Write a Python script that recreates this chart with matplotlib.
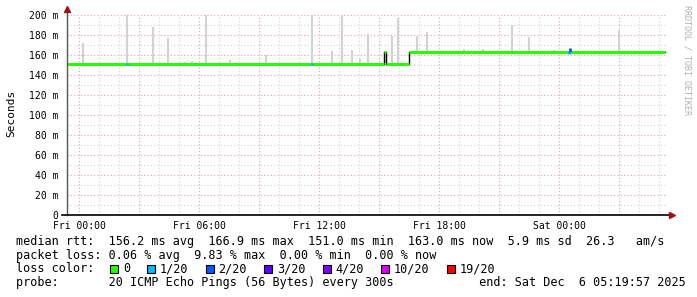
import matplotlib
matplotlib.use("Agg")
import matplotlib.pyplot as plt
from matplotlib.patches import Rectangle
import numpy as np

# time in hours relative to Fri 00:00, values in ms
median_t = [-0.6, 15.25, 15.35, 16.5, 29.3]
median_v = [151, 163, 151, 163, 163]

spike_t = [0.2, 2.4, 3.7, 4.45, 5.3, 5.65, 6.35, 7.55, 9.35, 11.65, 12.65, 13.15,
           13.65, 14.05, 14.45, 15.65, 15.95, 16.9, 17.4, 19.25, 20.2, 21.65,
           22.5, 23.75, 27.0]
spike_top = [172, 200, 188, 177, 153, 154, 200, 155, 160, 200, 164, 200,
             165, 156, 181, 179, 197, 179, 183, 166, 166, 190,
             178, 165, 185]

loss_t = [2.4, 11.65, 24.5, 24.55]
loss_lo = [150, 150, 161, 163]
loss_hi = [152, 152, 164, 167]
loss_c = ["#00b8ff", "#00b8ff", "#00b8ff", "#0059ff"]

tick_hours = [0, 6, 12, 18, 24]
tick_labels = ["Fri 00:00", "Fri 06:00", "Fri 12:00", "Fri 18:00", "Sat 00:00"]
y_ticks = [0, 20, 40, 60, 80, 100, 120, 140, 160, 180, 200]

loss_names = ["0", "1/20", "2/20", "3/20", "4/20", "10/20", "19/20"]
loss_colors = ["#26ff00", "#00b8ff", "#0059ff", "#5e00ff", "#7e00ff", "#dd00ff", "#ff0000"]

line1 = "median rtt:  156.2 ms avg  166.9 ms max  151.0 ms min  163.0 ms now  5.9 ms sd  26.3   am/s"
line2 = "packet loss: 0.06 % avg  9.83 % max  0.00 % min  0.00 % now"
line4 = "probe:       20 ICMP Echo Pings (56 Bytes) every 300s            end: Sat Dec  6 05:19:57 2025"

W, H = 697, 297
fig = plt.figure(figsize=(W / 100, H / 100), dpi=100)
ax = fig.add_axes([67 / W, (H - 215) / H, 600 / W, 200 / H])
ax.set_xlim(-0.6, 29.4)
ax.set_ylim(0, 200)

# grid
minor_c = "#d2d2d2"
major_c = "#dea4a4"
for h in np.arange(-0, 30, 1):
    c = major_c if h % 3 == 0 else minor_c
    ax.axvline(h, color=c, lw=0.8, ls=(0, (1, 2)), zorder=0)
for v in range(10, 201, 10):
    c = major_c if v % 20 == 0 else minor_c
    ax.axhline(v, color=c, lw=0.8, ls=(0, (1, 2)), zorder=0)

# smoke
idx = np.searchsorted(median_t, spike_t, side="right") - 1
base = np.array(median_v)[idx]
ax.vlines(spike_t, base, spike_top, color="#d2d2d2", lw=1.5, zorder=1)

# median
ax.step(median_t, median_v, where="post", color="black", lw=1.0, zorder=2)
ax.hlines(median_v[:-1], median_t[:-1], median_t[1:], color="#26ff00", lw=2.2, zorder=3)
ax.vlines(loss_t, loss_lo, loss_hi, colors=loss_c, lw=2.0, zorder=4)

for s in ax.spines.values():
    s.set_visible(False)
ax.plot([-0.6, -0.6], [0, 205], color="#555555", lw=1.0, clip_on=False, zorder=5)
ax.plot([-0.85, 29.6], [0, 0], color="black", lw=1.2, clip_on=False, zorder=5)
ax.plot([-0.6], [206], marker="^", color="#a01010", ms=4.5, clip_on=False, zorder=6)
ax.plot([29.65], [0], marker=">", color="#a01010", ms=4.5, clip_on=False, zorder=6)

ax.set_xticks(tick_hours)
ax.set_xticklabels(tick_labels, family="DejaVu Sans Mono", fontsize=7)
ax.set_yticks(y_ticks)
ax.set_yticklabels(["0"] + [f"{v} m" for v in y_ticks[1:]], family="DejaVu Sans Mono", fontsize=7)
ax.tick_params(axis="x", length=0, pad=4)
ax.tick_params(axis="y", length=0, pad=6)

fig.text(11 / W, 1 - 113 / H, "Seconds", rotation=90, ha="center", va="center",
         family="DejaVu Sans Mono", fontsize=8)
fig.text(687 / W, 1 - 60 / H, "RRDTOOL / TOBI OETIKER", rotation=270, ha="center",
         va="center", family="DejaVu Sans Mono", fontsize=6, color="#b0b0b0")

mono = dict(family="DejaVu Sans Mono", fontsize=8.5, va="center", ha="left")
fig.text(16 / W, 1 - 241.5 / H, line1, **mono)
fig.text(16 / W, 1 - 255 / H, line2, **mono)
fig.text(16 / W, 1 - 268.8 / H, "loss color:", **mono)
fig.text(16 / W, 1 - 282.7 / H, line4, **mono)

cw = 7.12
x = 110
for name, col in zip(loss_names, loss_colors):
    fig.patches.append(Rectangle((x / W, 1 - 273 / H), 8 / W, 8 / H, transform=fig.transFigure,
                                 facecolor=col, edgecolor="black", lw=0.8))
    fig.text((x + 13) / W, 1 - 268.8 / H, name, **mono)
    x = x + 13 + len(name) * cw + 17

fig.savefig("out.png", dpi=100)
